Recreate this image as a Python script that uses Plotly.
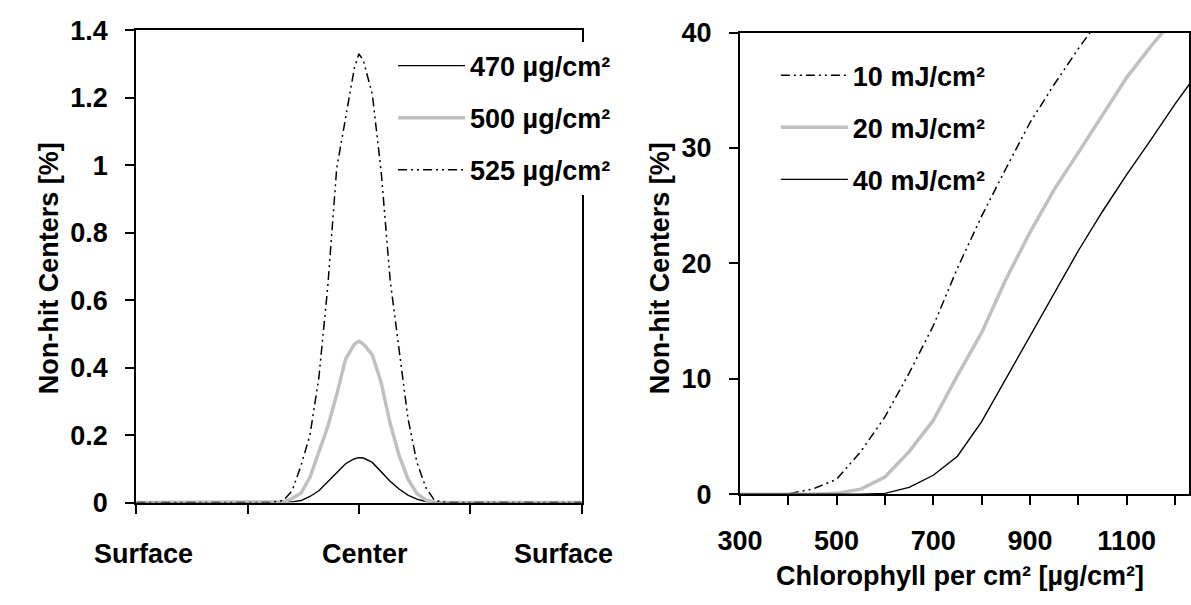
import plotly.graph_objects as go

# ---------------- data ----------------
# Left panel: position across the leaf (0 = surface, 50 = center, 100 = surface)
pos = [0, 10, 20, 30, 33, 35, 37, 39, 41, 43, 45, 47, 49, 50, 51, 53, 55, 57,
       59, 61, 63, 65, 67, 70, 80, 90, 100]
c470 = [0, 0, 0, 0, 0.0, 0.002, 0.006, 0.018, 0.035, 0.06, 0.088, 0.115, 0.13,
        0.133, 0.132, 0.119, 0.09, 0.063, 0.04, 0.022, 0.01, 0.003, 0.0, 0, 0, 0, 0]
c500 = [0, 0, 0, 0, 0.002, 0.012, 0.028, 0.075, 0.15, 0.225, 0.32, 0.425, 0.47,
        0.478, 0.47, 0.438, 0.355, 0.235, 0.14, 0.07, 0.027, 0.008, 0.001, 0, 0, 0, 0]
c525 = [0, 0, 0, 0, 0.006, 0.035, 0.11, 0.2, 0.37, 0.64, 0.99, 1.14, 1.29,
        1.33, 1.31, 1.21, 0.98, 0.66, 0.45, 0.25, 0.12, 0.045, 0.006, 0, 0, 0, 0]
left_names = ["470 µg/cm²", "500 µg/cm²", "525 µg/cm²"]
side_labels = ["Surface", "Center", "Surface"]
side_label_pos = [1.7, 51.3, 95.9]

# Right panel: chlorophyll per cm2
chl = [300, 350, 400, 450, 500, 550, 600, 650, 700, 750, 800, 850, 900, 950,
       1000, 1050, 1100, 1150, 1200, 1250]
mj10 = [0, 0, 0.05, 0.45, 1.3, 3.7, 6.7, 10.5, 14.6, 19.6, 24.1, 28.2, 32.2,
        35.5, 38.6, 41.5, 44.0, 46.5, 49.0, 51.0]
mj20 = [0, 0, 0, 0, 0.08, 0.45, 1.5, 3.7, 6.4, 10.3, 14.0, 18.6, 22.7, 26.4,
        29.6, 32.9, 36.1, 38.8, 41.3, 43.5]
mj40 = [0, 0, 0, 0, 0, 0, 0.08, 0.6, 1.65, 3.3, 6.3, 10.0, 13.6, 17.4,
        21.1, 24.5, 27.7, 30.7, 33.8, 36.7]
right_names = ["10 mJ/cm²", "20 mJ/cm²", "40 mJ/cm²"]
right_ticks = [300, 400, 500, 600, 700, 800, 900, 1000, 1100, 1200]
right_ticktext = ["300", "", "500", "", "700", "", "900", "", "1100", ""]

# ---------------- style ----------------
FONT = "Liberation Sans, Arial, sans-serif"
FS = 27
W, H = 1191, 605
DASHDOT = "9px,4px,2px,4px,2px,4px"
GRAY = "#c0c0c0"


def px(x):
    return x / W


def py(y):
    return (H - y) / H


fig = go.Figure()

left_styles = [dict(color="black", width=1.4),
               dict(color=GRAY, width=3.5),
               dict(color="black", width=1.5, dash=DASHDOT)]
for name, ys, st in zip(left_names, [c470, c500, c525], left_styles):
    fig.add_trace(go.Scatter(x=pos, y=ys, mode="lines", name=name, line=st,
                             xaxis="x", yaxis="y", legend="legend",
                             legendgroup=name))

right_styles = [dict(color="black", width=1.5, dash=DASHDOT),
                dict(color=GRAY, width=3.5),
                dict(color="black", width=1.4)]
for name, ys, st in zip(right_names, [mj10, mj20, mj40], right_styles):
    fig.add_trace(go.Scatter(x=chl, y=ys, mode="lines", name=name, line=st,
                             xaxis="x2", yaxis="y2", legend="legend2",
                             legendgroup=name))

axis_common = dict(showline=True, linecolor="black", linewidth=2,
                   ticks="outside", ticklen=9, tickwidth=2, tickcolor="black",
                   showgrid=False, zeroline=False, mirror=True,
                   tickfont=dict(family=FONT, size=FS, color="black", weight="bold"))

fig.update_layout(
    width=W, height=H,
    margin=dict(l=0, r=0, t=0, b=0),
    paper_bgcolor="white", plot_bgcolor="white",
    font=dict(family=FONT, size=FS, color="black", weight="bold"),
    xaxis=dict(domain=[px(115.7), px(570.6)], range=[0, 100], tickvals=[0, 25, 50, 75, 100],
               showticklabels=False, anchor="y", **axis_common),
    yaxis=dict(domain=[py(513), py(16)], range=[0, 1.4], dtick=0.2, anchor="x",
               tickformat="~g", ticklabelstandoff=12, **axis_common),
    xaxis2=dict(domain=[px(732.3), 1.0], range=[300, 1229], tickvals=right_ticks,
                ticktext=right_ticktext, anchor="y2", ticklabelstandoff=12,
                **axis_common),
    yaxis2=dict(domain=[py(504.3), py(18.5)], range=[0, 40], dtick=10, anchor="x2",
                ticklabelstandoff=12, **axis_common),
    legend=dict(x=px(378), y=py(28), xanchor="left", yanchor="top",
                bgcolor="white", borderwidth=0, itemwidth=67, tracegroupgap=14,
                traceorder="grouped",
                font=dict(family=FONT, size=FS, color="black", weight="bold")),
    legend2=dict(x=px(769), y=py(38), xanchor="left", yanchor="top",
                 bgcolor="rgba(0,0,0,0)", borderwidth=0, itemwidth=67, tracegroupgap=14,
                 traceorder="grouped",
                 font=dict(family=FONT, size=FS, color="black", weight="bold")),
    showlegend=True,
)

annotations = []
for lab, xp in zip(side_labels, side_label_pos):
    annotations.append(dict(text=lab, x=xp, xref="x", y=py(567), yref="paper",
                            xanchor="center", yanchor="middle", showarrow=False,
                            font=dict(family=FONT, size=FS, color="black", weight="bold")))
annotations.append(dict(text="Non-hit Centers [%]", x=px(26), y=py(266), xref="paper",
                        yref="paper", textangle=-90, showarrow=False,
                        xanchor="center", yanchor="middle",
                        font=dict(family=FONT, size=FS, color="black", weight="bold")))
annotations.append(dict(text="Non-hit Centers [%]", x=px(650), y=py(266), xref="paper",
                        yref="paper", textangle=-90, showarrow=False,
                        xanchor="center", yanchor="middle",
                        font=dict(family=FONT, size=FS, color="black", weight="bold")))
annotations.append(dict(text="Chlorophyll per cm² [µg/cm²]", x=px(957), y=py(590),
                        xref="paper", yref="paper", showarrow=False,
                        xanchor="center", yanchor="middle",
                        font=dict(family=FONT, size=FS, color="black", weight="bold")))
fig.update_layout(annotations=annotations)

fig.write_html("out.html")
